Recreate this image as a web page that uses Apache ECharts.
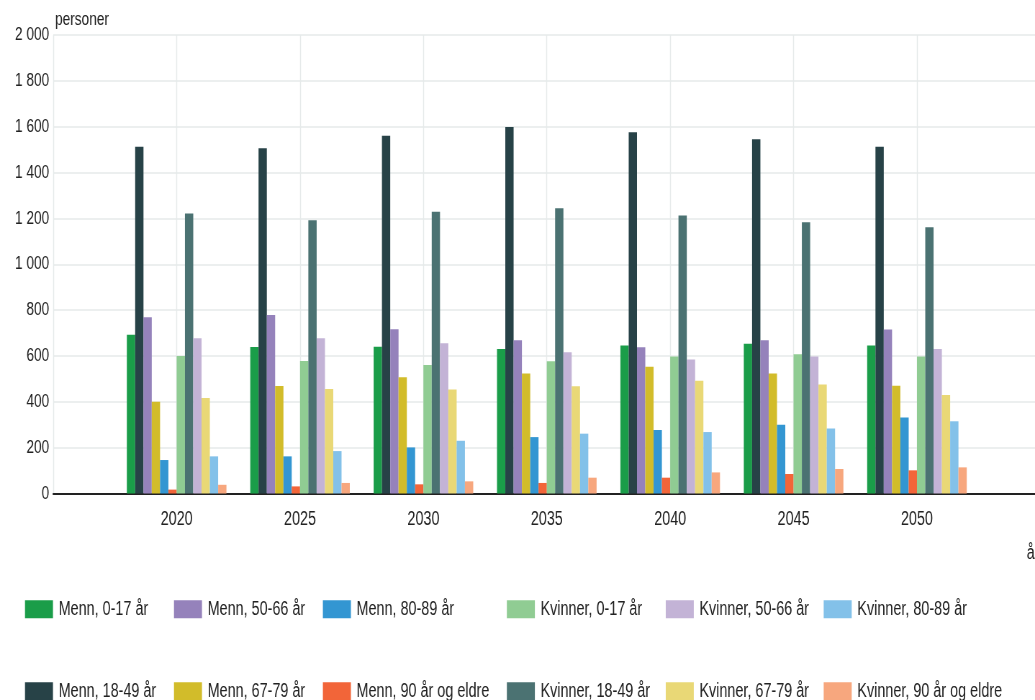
<!DOCTYPE html>
<html>
<head>
<meta charset="utf-8">
<script src="https://cdn.jsdelivr.net/npm/echarts@6/dist/echarts.min.js"></script>
<style>
  html, body { margin: 0; padding: 0; background: #ffffff; overflow: hidden; }
  #frame { width: 1035px; height: 700px; overflow: hidden; position: relative; }
  /* the chart is drawn on a wider canvas and squeezed horizontally,
     which gives the tall, condensed lettering of the published graphic */
  #chart { width: 1438px; height: 700px; transform: scaleX(0.71975); transform-origin: 0 0; }
</style>
</head>
<body>
<div id="frame"><div id="chart"></div></div>
<script>
// Befolkningsframskriving etter kjønn og aldersgruppe, 2020–2050
const years = [2020, 2025, 2030, 2035, 2040, 2045, 2050];

const menn0_17   = [693, 639, 640, 630, 646, 653, 646];
const menn18_49  = [1513, 1506, 1561, 1599, 1576, 1545, 1513];
const menn50_66  = [769, 779, 716, 668, 638, 668, 715];
const menn67_79  = [400, 469, 507, 523, 553, 523, 470];
const menn80_89  = [146, 162, 201, 246, 277, 300, 331];
const menn90     = [17, 31, 40, 46, 69, 85, 101];
const kvinner0_17  = [600, 578, 560, 577, 598, 607, 598];
const kvinner18_49 = [1221, 1192, 1229, 1244, 1213, 1183, 1161];
const kvinner50_66 = [677, 677, 655, 616, 584, 598, 630];
const kvinner67_79 = [417, 456, 454, 468, 492, 476, 430];
const kvinner80_89 = [162, 185, 230, 261, 268, 284, 315];
const kvinner90    = [38, 46, 53, 69, 92, 107, 114];

const yTickLabels = ['0', '200', '400', '600', '800', '1 000', '1 200', '1 400', '1 600', '1 800', '2 000'];

const seriesDefs = [
  { name: 'Menn, 0-17 år',            data: menn0_17,     color: '#1a9d49' },
  { name: 'Menn, 18-49 år',           data: menn18_49,    color: '#274247' },
  { name: 'Menn, 50-66 år',           data: menn50_66,    color: '#9582bb' },
  { name: 'Menn, 67-79 år',           data: menn67_79,    color: '#d2bc2a' },
  { name: 'Menn, 80-89 år',           data: menn80_89,    color: '#3396d2' },
  { name: 'Menn, 90 år og eldre',     data: menn90,       color: '#f26539' },
  { name: 'Kvinner, 0-17 år',         data: kvinner0_17,  color: '#90cc93' },
  { name: 'Kvinner, 18-49 år',        data: kvinner18_49, color: '#4b7272' },
  { name: 'Kvinner, 50-66 år',        data: kvinner50_66, color: '#c3b3d6' },
  { name: 'Kvinner, 67-79 år',        data: kvinner67_79, color: '#e9d876' },
  { name: 'Kvinner, 80-89 år',        data: kvinner80_89, color: '#83c1e9' },
  { name: 'Kvinner, 90 år og eldre',  data: kvinner90,    color: '#f7a77e' }
];

const FONT = '"Liberation Sans", Arial, sans-serif';
const TEXT = '#222222';

// Legend laid out column by column: two entries per column
const legendColumns = [
  { left: 34.7,   items: ['Menn, 0-17 år', 'Menn, 18-49 år'] },
  { left: 241.7,  items: ['Menn, 50-66 år', 'Menn, 67-79 år'] },
  { left: 448.6,  items: ['Menn, 80-89 år', 'Menn, 90 år og eldre'] },
  { left: 704.2,  items: ['Kvinner, 0-17 år', 'Kvinner, 18-49 år'] },
  { left: 925,    items: ['Kvinner, 50-66 år', 'Kvinner, 67-79 år'] },
  { left: 1144.4, items: ['Kvinner, 80-89 år', 'Kvinner, 90 år og eldre'] }
];

const chart = echarts.init(document.getElementById('chart'), null, { renderer: 'canvas' });

chart.setOption({
  animation: false,
  backgroundColor: '#ffffff',
  textStyle: { fontFamily: FONT },
  title: {
    text: 'personer',
    left: 76.4,
    top: 10,
    padding: 0,
    textStyle: { fontFamily: FONT, fontSize: 19, fontWeight: 'normal', color: TEXT }
  },
  legend: legendColumns.map(col => ({
    orient: 'vertical',
    left: col.left,
    top: 599.3,
    height: 140,
    padding: 0,
    itemWidth: 38.9,
    itemHeight: 18,
    itemGap: 62,
    icon: 'rect',
    selectedMode: false,
    data: col.items,
    textStyle: { fontFamily: FONT, fontSize: 20, color: TEXT, lineHeight: 18, padding: [0, 0, 0, 2.8] }
  })),
  grid: {
    left: 74,
    right: -7.4,
    top: 35,
    bottom: 206.5,
    containLabel: false,
    outerBoundsMode: 'none'
  },
  xAxis: {
    type: 'value',
    min: 2015,
    max: 2055,
    interval: 5,
    name: 'år',
    nameLocation: 'end',
    nameGap: -19,
    nameTextStyle: {
      fontFamily: FONT, fontSize: 20, color: TEXT,
      align: 'left', verticalAlign: 'top', padding: [50, 0, 0, 0]
    },
    axisLine: { show: true, lineStyle: { color: '#222222', width: 2 } },
    axisTick: { show: false },
    axisLabel: {
      fontFamily: FONT, fontSize: 20, color: TEXT, margin: 16,
      formatter: v => (years.indexOf(v) >= 0 ? String(v) : '')
    },
    splitLine: { show: true, lineStyle: { color: '#e6eaea', width: 1.4 } }
  },
  yAxis: {
    type: 'value',
    min: 0,
    max: 2000,
    interval: 200,
    axisLine: { show: false },
    axisTick: { show: false },
    axisLabel: {
      fontFamily: FONT, fontSize: 19, color: TEXT, margin: 5.6,
      formatter: v => yTickLabels[Math.round(v / 200)]
    },
    splitLine: { show: true, lineStyle: { color: '#e6eaea', width: 1.5 } }
  },
  series: seriesDefs.map(s => ({
    type: 'bar',
    name: s.name,
    barWidth: 11.53,
    barGap: '0%',
    itemStyle: { color: s.color },
    emphasis: { disabled: true },
    data: years.map((y, i) => [y, s.data[i]])
  }))
});
</script>
</body>
</html>
